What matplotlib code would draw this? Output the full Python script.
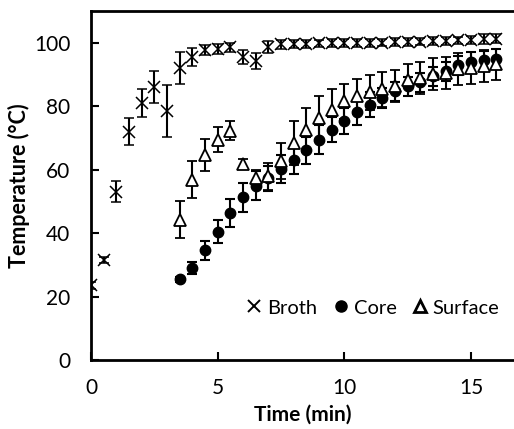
import numpy as np
import matplotlib
matplotlib.use("Agg")
import matplotlib.pyplot as plt
from matplotlib.lines import Line2D

# Dados (tempo em min, temperatura em °C)
broth_t = [0, 0.5, 1, 1.5, 2, 2.5, 3, 3.5, 4, 4.5, 5, 5.5, 6, 6.5, 7, 7.5, 8,
           8.5, 9, 9.5, 10, 10.5, 11, 11.5, 12, 12.5, 13, 13.5, 14, 14.5, 15, 15.5, 16]
broth = [23.5, 31.5, 53, 72, 81, 86, 78.5, 92, 95.6, 97.8, 98, 98.6, 95.6, 94.2, 98.7,
         99.5, 99.6, 99.7, 99.8, 99.9, 100, 100, 100, 100.1, 100.2, 100.3, 100.4, 100.5,
         100.6, 100.8, 101, 101.2, 101.3]
broth_err = [1, 1, 3.3, 4.2, 4.5, 5, 8.2, 5, 2.8, 1.5, 1.5, 1.5, 2.3, 2.5, 2, 1.3, 1.2,
             1.2, 1.2, 1.2, 1.2, 1.2, 1.2, 1.2, 1.2, 1.2, 1.2, 1.2, 1.2, 1.2, 1.3, 1.5, 1.5]

core_t = [3.5, 4, 4.5, 5, 5.5, 6, 6.5, 7, 7.5, 8, 8.5, 9, 9.5, 10, 10.5, 11, 11.5,
          12, 12.5, 13, 13.5, 14, 14.5, 15, 15.5, 16]
core = [25.5, 29, 34.6, 40.5, 46.4, 51.3, 55, 57.3, 60.2, 62.9, 66.1, 69.5, 72.6, 75.4,
        78.2, 80.5, 82.6, 84.7, 86.3, 87.5, 89.5, 91, 93, 94, 94.5, 95]
core_err = [0.8, 2, 3, 3.7, 4.5, 4.5, 4.5, 4, 4.4, 4.2, 4.2, 4.5, 4, 4, 4, 4, 3.2, 3,
            3, 3, 3, 3, 3, 3, 3, 3]

surface_t = core_t
surface = [44.2, 56.8, 64.7, 69.5, 72.3, 61.8, 57.4, 57.9, 62.8, 68.4, 72.6, 76.3, 78.9,
           81.6, 83.2, 84.4, 85.3, 86.5, 88.2, 88.9, 90.2, 90.5, 91.8, 92.1, 92.6, 93.2]
surface_err = [5.8, 5.8, 5, 4, 3, 1.6, 2.5, 4.2, 5.6, 7, 7, 7, 6.4, 5.5, 5.5, 5.5, 5.5,
               5, 5, 5, 5, 5, 5, 5, 5, 5]

plt.rcParams['font.family'] = ['Lato', 'DejaVu Sans']

fig = plt.figure(figsize=(5.14, 4.29), dpi=100)
ax = fig.add_axes([0.177, 0.161, 0.823, 0.813])

eb = dict(ecolor='black', elinewidth=1.5, capsize=3.5, capthick=1.5, linestyle='none')
ax.errorbar(broth_t, broth, yerr=broth_err, marker='x', ms=8, mew=1.1,
            color='black', **eb)
ax.errorbar(core_t, core, yerr=core_err, marker='o', ms=7.5, mfc='black',
            mec='black', **eb)
ax.errorbar(surface_t, surface, yerr=surface_err, marker='^', ms=9, mfc='white',
            mec='black', mew=1.3, **eb)

ax.set_xlim(0, 16.7)
ax.set_ylim(0, 110)
ax.set_xticks([0, 5, 10, 15])
ax.set_yticks([0, 20, 40, 60, 80, 100])
ax.tick_params(direction='in', length=6, width=1.5, labelsize=15)
ax.tick_params(axis='x', pad=13)
ax.tick_params(axis='y', pad=15)
for s in ['left', 'bottom', 'top']:
    ax.spines[s].set_linewidth(2)
ax.spines['right'].set_visible(False)

ax.set_xlabel('Time (min)', fontsize=15, fontweight='bold')
ax.set_ylabel('Temperature (°C)', fontsize=15.5, fontweight='bold')
ax.xaxis.set_label_coords(0.5, -0.127)
ax.yaxis.set_label_coords(-0.143, 0.5)

handles = [
    Line2D([], [], marker='x', ms=8.5, mew=1.4, color='black', linestyle='none'),
    Line2D([], [], marker='o', ms=8, color='black', linestyle='none'),
    Line2D([], [], marker='^', ms=8.5, mfc='white', mec='black', mew=2, linestyle='none'),
]
ax.legend(handles, ['Broth', 'Core', 'Surface'], ncol=3, frameon=False,
          loc='center right', bbox_to_anchor=(0.985, 0.149), fontsize=14.5,
          handlelength=0.7, handletextpad=0.3, columnspacing=0.8, borderaxespad=0)

fig.savefig('out.png', dpi=100)
